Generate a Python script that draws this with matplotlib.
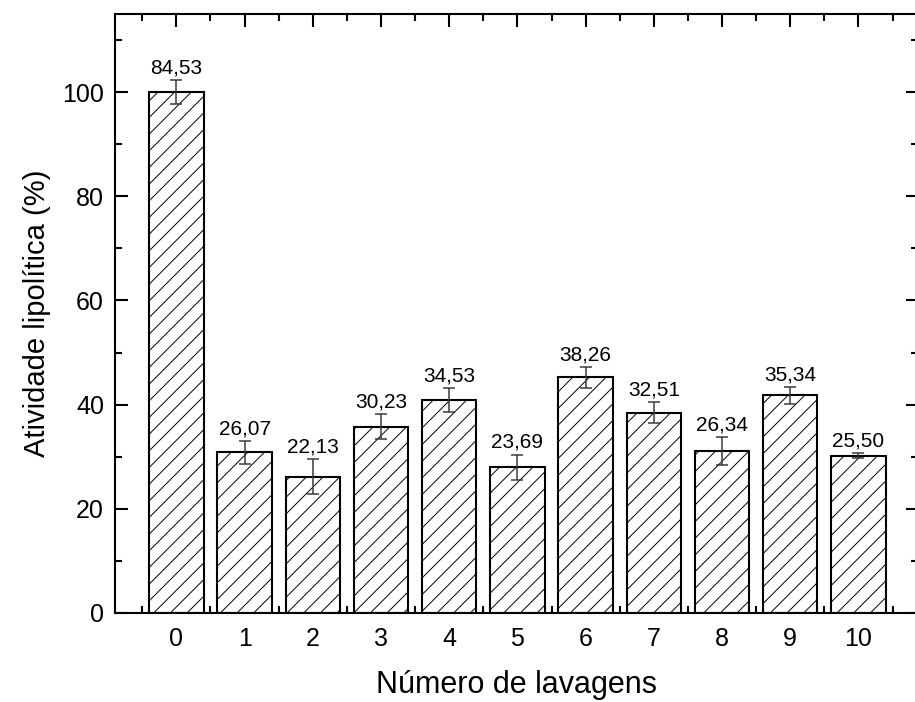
import numpy as np
import matplotlib.pyplot as plt
from matplotlib.ticker import MultipleLocator

plt.rcParams['font.family'] = ['Liberation Sans', 'DejaVu Sans']
plt.rcParams['hatch.linewidth'] = 0.7
plt.rcParams['hatch.color'] = '#3c3c3c'

# Número de lavagens e atividade lipolítica medida (U/g)
lavagens = np.arange(11)
atividade = [84.53, 26.07, 22.13, 30.23, 34.53, 23.69, 38.26, 32.51, 26.34, 35.34, 25.50]
rotulos = ['84,53', '26,07', '22,13', '30,23', '34,53', '23,69',
           '38,26', '32,51', '26,34', '35,34', '25,50']
# desvio padrão em % da atividade inicial
erro = [2.3, 2.2, 3.4, 2.4, 2.3, 2.4, 2.0, 2.0, 2.7, 1.6, 0.5]

# atividade relativa ao ciclo inicial
relativa = np.array(atividade) / atividade[0] * 100

fig = plt.figure(figsize=(9.15, 7.02), dpi=100)
ax = fig.add_axes([0.1257, 0.1268, 0.8773, 0.8532])

ax.bar(lavagens, relativa, width=0.8, color='white', edgecolor='black',
       linewidth=1.5, hatch='//', zorder=2)
ax.errorbar(lavagens, relativa, yerr=erro, fmt='none', ecolor='#3a3a3a',
            elinewidth=1.1, capsize=4.2, capthick=1.1, zorder=3)

for x, y, e, txt in zip(lavagens, relativa, erro, rotulos):
    ax.text(x, y + e + 0.5, txt, ha='center', va='bottom', fontsize=15)

ax.set_xlim(-0.9, 10.87)
ax.set_ylim(0, 115)
ax.set_xticks(lavagens)
ax.set_yticks([0, 20, 40, 60, 80, 100])
ax.xaxis.set_minor_locator(MultipleLocator(0.5))
ax.yaxis.set_minor_locator(MultipleLocator(10))

ax.tick_params(which='both', direction='in', top=True, right=True,
               width=1.5, labelsize=18)
ax.tick_params(which='major', length=9, pad=10)
ax.tick_params(which='minor', length=5)
ax.tick_params(axis='y', which='major', pad=8)

for s in ax.spines.values():
    s.set_linewidth(1.5)

ax.set_xlabel('Número de lavagens', fontsize=22, labelpad=14)
ax.set_ylabel('Atividade lipolítica (%)', fontsize=21, labelpad=8)

plt.savefig('out.png', dpi=100)
